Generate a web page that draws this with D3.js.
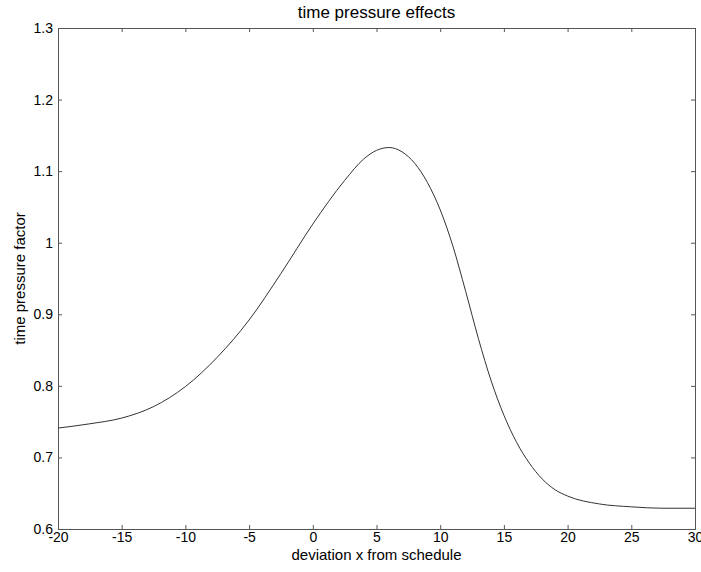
<!DOCTYPE html>
<html>
<head>
<meta charset="utf-8">
<script src="https://cdn.jsdelivr.net/npm/d3@7"></script>
<style>
  body { margin: 0; background: #fff; }
  text { font-family: "Liberation Sans", Arial, sans-serif; fill: #000; }
</style>
</head>
<body>
<svg id="chart" width="701" height="572"></svg>
<script>
// values
var devX = [-20, -17.5, -15, -12.5, -10, -7.5, -5, -2.5, 0, 2.5, 4, 5, 6, 7, 8, 9, 10, 11, 12, 13, 14, 15, 16, 17, 18, 19, 20, 22.5, 25, 27.5, 30];
var factorY = [0.741, 0.747, 0.755, 0.771, 0.799, 0.840, 0.892, 0.957, 1.026, 1.087, 1.117, 1.129, 1.133, 1.127, 1.111, 1.084, 1.046, 0.995, 0.932, 0.866, 0.807, 0.759, 0.721, 0.692, 0.670, 0.655, 0.646, 0.635, 0.631, 0.629, 0.629];
var xTicks = [-20, -15, -10, -5, 0, 5, 10, 15, 20, 25, 30];
var yTicks = [0.6, 0.7, 0.8, 0.9, 1, 1.1, 1.2, 1.3];

var svg = d3.select('#chart');
var margin = {left: 58, top: 28, right: 6, bottom: 43};
var w = 701 - margin.left - margin.right,
    h = 572 - margin.top - margin.bottom;

var x = d3.scaleLinear().domain([-20, 30]).range([margin.left, margin.left + w]);
var y = d3.scaleLinear().domain([0.6, 1.3]).range([margin.top + h, margin.top]);

var pts = [];
for (var i = 0; i < devX.length; i++) {
  pts.push({x: devX[i], y: factorY[i]});
}

// ticks pointing inward on all four sides, like the box plot
var tk = 4;
var axB = svg.append('g')
  .attr('transform', 'translate(0,' + (margin.top + h) + ')')
  .call(d3.axisBottom(x).tickValues(xTicks).tickSize(-tk).tickPadding(3).tickFormat(function(d) { return String(d); }));
var axT = svg.append('g')
  .attr('transform', 'translate(0,' + margin.top + ')')
  .call(d3.axisTop(x).tickValues(xTicks).tickSize(-tk).tickFormat(''));
var axL = svg.append('g')
  .attr('transform', 'translate(' + margin.left + ',0)')
  .call(d3.axisLeft(y).tickValues(yTicks).tickSize(-tk).tickPadding(5).tickFormat(function(d) { return String(+d.toFixed(1)); }));
var axR = svg.append('g')
  .attr('transform', 'translate(' + (margin.left + w) + ',0)')
  .call(d3.axisRight(y).tickValues(yTicks).tickSize(-tk).tickFormat(''));

[axB, axT, axL, axR].forEach(function(a) {
  a.select('.domain').attr('stroke', '#555');
  a.selectAll('.tick line').attr('stroke', '#555');
  a.selectAll('.tick text').attr('font-size', 14).attr('fill', '#000')
    .style('font-family', '"Liberation Sans", Arial, sans-serif');
});

var line = d3.line()
  .x(function(d) { return x(d.x); })
  .y(function(d) { return y(d.y); })
  .curve(d3.curveMonotoneX);

svg.append('path')
  .datum(pts)
  .attr('fill', 'none')
  .attr('stroke', '#333')
  .attr('stroke-width', 1)
  .attr('d', line);

svg.append('text')
  .attr('x', margin.left + w / 2)
  .attr('y', 18)
  .attr('text-anchor', 'middle')
  .attr('font-size', 17)
  .text('time pressure effects');

svg.append('text')
  .attr('x', margin.left + w / 2)
  .attr('y', 560)
  .attr('text-anchor', 'middle')
  .attr('font-size', 15)
  .text('deviation x from schedule');

svg.append('text')
  .attr('transform', 'translate(25,' + (margin.top + h / 2) + ') rotate(-90)')
  .attr('text-anchor', 'middle')
  .attr('font-size', 15)
  .text('time pressure factor');
</script>
</body>
</html>
